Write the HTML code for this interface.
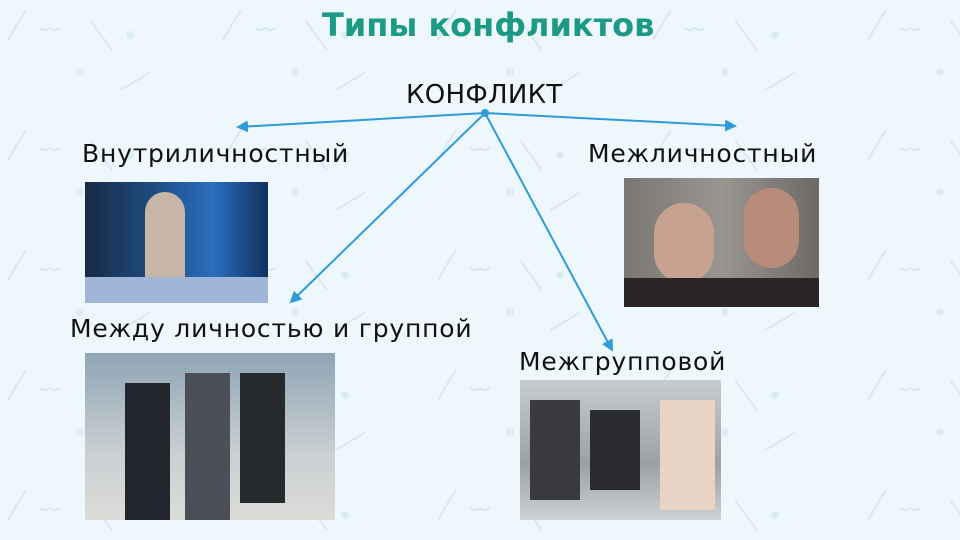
<!DOCTYPE html>
<html><head><meta charset="utf-8"><style>
body{margin:0;width:960px;height:540px;overflow:hidden;background:#eef8fc;position:relative;font-family:"DejaVu Sans","Liberation Sans",sans-serif}
.t{position:absolute;white-space:nowrap;color:#111;letter-spacing:0.8px;font-size:25px}
.img{position:absolute;overflow:hidden}
</style></head><body>
<svg width="960" height="540" style="position:absolute;left:0;top:0">
<defs>
<pattern id="p" width="215" height="120" patternUnits="userSpaceOnUse">
<path d="M8 40 q5-8 8-14 q5-8 10-16" stroke="#d5eaf1" stroke-width="2" fill="none"/>
<path d="M90 20 q6 8 10 14 q6 8 12 16" stroke="#d5eaf1" stroke-width="2" fill="none"/>
<path d="M120 90 q8-4 14-8 q8-4 16-10" stroke="#d5eaf1" stroke-width="2" fill="none"/>
<path d="M40 28 q5 4 10 0 q5 4 10 0" stroke="#d5eaf1" stroke-width="2" fill="none"/>
<circle cx="130" cy="35" r="4" fill="#d9edf3"/><circle cx="80" cy="72" r="4" fill="#d9edf3"/>
</pattern>
<marker id="a" markerWidth="6" markerHeight="6" refX="5" refY="3" orient="auto"><path d="M0 0 L6 3 L0 6 z" fill="#2f9bd8"/></marker>
</defs>
<rect width="960" height="540" fill="url(#p)"/>
<g stroke="#2f9bd8" stroke-width="2" fill="none" marker-end="url(#a)">
<line x1="485" y1="113" x2="238" y2="127"/>
<line x1="485" y1="113" x2="735" y2="126"/>
<line x1="485" y1="113" x2="291" y2="302"/>
<line x1="485" y1="113" x2="612" y2="350"/>
</g>
<circle cx="485" cy="113" r="4" fill="#2f9bd8"/>
</svg>
<div class="t" style="left:322px;top:6px;font-size:32px;font-weight:bold;color:#1c9a86;letter-spacing:0">Типы конфликтов</div>
<div class="t" style="left:406px;top:80px;font-size:26px;letter-spacing:0.3px">КОНФЛИКТ</div>
<div class="t" style="left:82px;top:139px">Внутриличностный</div>
<div class="t" style="left:588px;top:139px">Межличностный</div>
<div class="t" style="left:70px;top:314px">Между личностью и группой</div>
<div class="t" style="left:519px;top:347px">Межгрупповой</div>
<div class="img" style="left:85px;top:182px;width:183px;height:121px;background:linear-gradient(90deg,#1a2a44 0%,#1f4f86 40%,#2c6ec0 70%,#103060 100%)">
<div style="position:absolute;left:60px;top:10px;width:40px;height:90px;background:#c7b6a8;border-radius:20px 20px 4px 4px"></div>
<div style="position:absolute;left:0;top:95px;width:183px;height:26px;background:#9fb6d6"></div></div>
<div class="img" style="left:624px;top:178px;width:195px;height:129px;background:linear-gradient(90deg,#7a7672,#9a9590 50%,#6d6965)">
<div style="position:absolute;left:30px;top:25px;width:60px;height:80px;background:#c8a290;border-radius:30px"></div>
<div style="position:absolute;left:120px;top:10px;width:55px;height:80px;background:#b88c78;border-radius:28px"></div>
<div style="position:absolute;left:0;top:100px;width:195px;height:29px;background:#2a2625"></div></div>
<div class="img" style="left:85px;top:353px;width:250px;height:167px;background:linear-gradient(180deg,#8fa5b5,#c9cfd2 60%,#dcdcd8)">
<div style="position:absolute;left:40px;top:30px;width:45px;height:137px;background:#22252b"></div>
<div style="position:absolute;left:100px;top:20px;width:45px;height:147px;background:#4a4f58"></div>
<div style="position:absolute;left:155px;top:20px;width:45px;height:130px;background:#262a2c"></div></div>
<div class="img" style="left:520px;top:380px;width:201px;height:140px;background:linear-gradient(180deg,#c7ccd0,#9aa0a4 60%,#cfd2d4)">
<div style="position:absolute;left:10px;top:20px;width:50px;height:100px;background:#3a3b3f"></div>
<div style="position:absolute;left:70px;top:30px;width:50px;height:80px;background:#2b2c31"></div>
<div style="position:absolute;left:140px;top:20px;width:55px;height:110px;background:#e7d4c4"></div></div>
</body></html>
